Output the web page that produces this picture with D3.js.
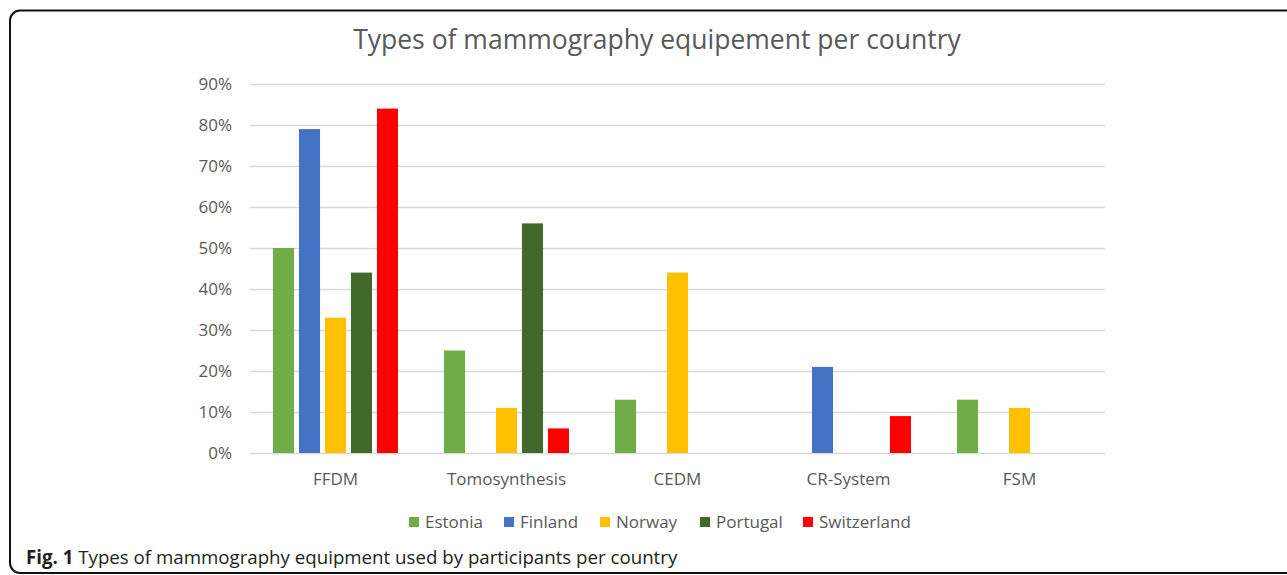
<!DOCTYPE html>
<html>
<head>
<meta charset="utf-8">
<script src="https://cdn.jsdelivr.net/npm/d3@7"></script>
<style>
    body { margin: 0; background: #fff; }
    text { font-family: "Open Sans", sans-serif; }
</style>
</head>
<body>
<div id="chart"></div>
<script>
'use strict'

// data (percent of participants)
const categories = ['FFDM', 'Tomosynthesis', 'CEDM', 'CR-System', 'FSM']
const countries = ['Estonia', 'Finland', 'Norway', 'Portugal', 'Switzerland']
const estonia = [50, 25, 13, 0, 13]
const finland = [79, 0, 0, 21, 0]
const norway = [33, 11, 44, 0, 11]
const portugal = [44, 56, 0, 0, 0]
const switzerland = [84, 6, 0, 9, 0]
const yTicks = [0, 10, 20, 30, 40, 50, 60, 70, 80, 90]
const colors = ['#70ad47', '#4472c4', '#ffc000', '#43682b', '#ff0000']

const seriesValues = [estonia, finland, norway, portugal, switzerland]

function bars(selector = '#chart') {

    const svgWidth = 1287
    const svgHeight = 575

    // plot area
    const plot = { left: 250, right: 1105, top: 84, bottom: 453 }

    const svg = d3.select(selector)
        .append('svg')
        .attr('width', svgWidth)
        .attr('height', svgHeight)

    // frame round the figure
    svg.append('rect')
        .attr('x', 10)
        .attr('y', 10.5)
        .attr('width', 1300)
        .attr('height', 562.5)
        .attr('rx', 10)
        .attr('fill', 'none')
        .attr('stroke', '#111')
        .attr('stroke-width', 2)

    // title
    svg.append('text')
        .attr('x', 657)
        .attr('y', 49)
        .attr('text-anchor', 'middle')
        .attr('fill', '#595959')
        .style('font-size', '26.5px')
        .text('Types of mammography equipement per country')

    ////////////////////////////////////
    //////////////scales////////////////
    ////////////////////////////////////

    const x0 = d3.scaleBand()
        .domain(categories)
        .range([plot.left, plot.right])

    // bars inside a category
    const x1 = d3.scaleBand()
        .domain(countries)
        .range([23, 148])
        .paddingInner(0.19)

    const y = d3.scaleLinear()
        .domain([0, 90])
        .range([plot.bottom, plot.top])

    const colorScale = d3.scaleOrdinal()
        .domain(countries)
        .range(colors)

    ////////////////////////////////////
    ///////////////axis/////////////////
    ////////////////////////////////////

    const yAxis = d3.axisLeft(y)
        .tickValues(yTicks)
        .tickSize(-(plot.right - plot.left))
        .tickPadding(18)
        .tickFormat(d => d + '%')

    const yg = svg.append('g')
        .attr('transform', `translate(${plot.left},0)`)
        .call(yAxis)
    yg.select('.domain').remove()
    yg.selectAll('.tick line')
        .attr('stroke', '#d9d9d9')
        .attr('stroke-width', 1.3)
    yg.selectAll('.tick text')
        .attr('fill', '#595959')
        .style('font-size', '17px')

    const xAxis = d3.axisBottom(x0).tickSize(0).tickPadding(20)
    const xg = svg.append('g')
        .attr('transform', `translate(0,${plot.bottom})`)
        .call(xAxis)
    xg.select('.domain').remove()
    xg.selectAll('.tick text')
        .attr('fill', '#595959')
        .style('font-size', '17px')

    // Bars
    const rows = []
    categories.forEach((c, i) => {
        countries.forEach((s, j) => {
            rows.push({ category: c, country: s, value: seriesValues[j][i] })
        })
    })

    svg.selectAll('.bar')
        .data(rows.filter(d => d.value > 0))
        .join('rect')
        .attr('class', 'bar')
        .attr('x', d => x0(d.category) + x1(d.country))
        .attr('y', d => y(d.value))
        .attr('width', x1.bandwidth())
        .attr('height', d => y(0) - y(d.value))
        .attr('fill', d => colorScale(d.country))

    // Legend
    const legendX = [409, 504, 600, 700, 803]
    const legend = svg.selectAll('.legend')
        .data(countries)
        .join('g')
        .attr('class', 'legend')
        .attr('transform', (d, i) => `translate(${legendX[i]},517)`)
    legend.append('rect')
        .attr('width', 10)
        .attr('height', 10)
        .attr('fill', d => colorScale(d))
    legend.append('text')
        .attr('x', 16)
        .attr('y', 11)
        .attr('fill', '#595959')
        .style('font-size', '17px')
        .text(d => d)

    // caption under the chart
    const caption = svg.append('text')
        .attr('x', 26)
        .attr('y', 564)
        .attr('fill', '#231f20')
        .style('font-size', '18.7px')
    caption.append('tspan')
        .attr('font-weight', 'bold')
        .text('Fig. 1')
    caption.append('tspan')
        .text(' Types of mammography equipment used by participants per country')
}

bars()
</script>
</body>
</html>
